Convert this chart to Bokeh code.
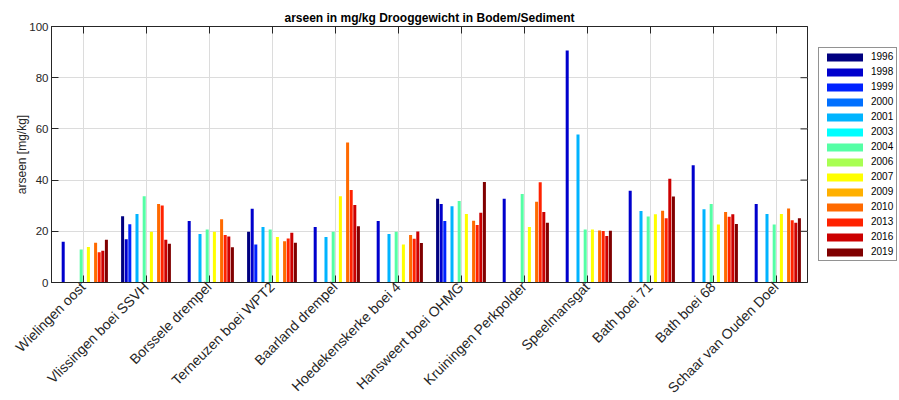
import math
import numpy as np
from bokeh.plotting import figure
from bokeh.models import (ColumnDataSource, FactorRange, Range1d, CategoricalAxis,
                          Legend, LegendItem, FixedTicker)
from bokeh.transform import dodge
from bokeh.embed import file_html
from bokeh.resources import INLINE

nan = float("nan")

stations = ["Wielingen oost", "Vlissingen boei SSVH", "Borssele drempel",
            "Terneuzen boei WPT2", "Baarland drempel", "Hoedekenskerke boei 4",
            "Hansweert boei OHMG", "Kruiningen Perkpolder", "Speelmansgat",
            "Bath boei 71", "Bath boei 68", "Schaar van Ouden Doel"]

years = ["1996", "1998", "1999", "2000", "2001", "2003", "2004",
         "2006", "2007", "2009", "2010", "2013", "2016", "2019"]

a1996 = [nan, 25.9, nan, 19.8, nan, nan, 32.7, nan, nan, nan, nan, nan]
a1998 = [15.9, 16.9, 24.0, 28.8, 21.7, 24.0, 30.7, 32.7, 90.6, 35.8, 45.8, 30.7]
a1999 = [nan, 22.8, nan, 14.8, nan, nan, 24.0, nan, nan, nan, nan, nan]
a2000 = [nan] * 12
a2001 = [nan, 26.8, 18.9, 21.7, 17.8, 18.9, 29.8, nan, 57.8, 27.9, 28.6, 26.8]
a2003 = [nan] * 12
a2004 = [12.9, 33.7, 20.7, 20.7, 19.8, 19.8, 31.8, 34.6, 20.7, 25.8, 30.7, 22.7]
a2006 = [nan] * 12
a2007 = [13.9, 19.8, 19.8, 17.8, 33.7, 14.8, 26.8, 21.7, 20.7, 26.7, 22.7, 26.8]
a2009 = [nan] * 12
a2010 = [15.5, 30.7, 24.7, 16.1, 54.7, 18.6, 24.1, 31.5, 20.3, 28.0, 27.5, 28.9]
a2013 = [11.8, 30.1, 18.6, 17.2, 36.1, 17.1, 22.5, 39.2, 20.1, 25.1, 25.7, 24.3]
a2016 = [12.4, 16.7, 18.0, 19.4, 30.3, 19.9, 27.2, 27.5, 18.2, 40.5, 26.7, 23.3]
a2019 = [16.7, 15.1, 13.8, 15.5, 22.0, 15.4, 39.3, 23.3, 20.2, 33.6, 22.9, 25.1]

series = [a1996, a1998, a1999, a2000, a2001, a2003, a2004,
          a2006, a2007, a2009, a2010, a2013, a2016, a2019]

colors = ["#000080", "#0000CD", "#0022FF", "#0070FF", "#00B4FF", "#00FFFF", "#55FFA5",
          "#A8FF52", "#FFFF00", "#FFB000", "#FF6A00", "#FF2200", "#CC0000", "#800000"]

yticks = [0, 20, 40, 60, 80, 100]

TXT = "#262626"
FONT = "Liberation Sans"

p = figure(frame_width=756, frame_height=256,
           x_range=FactorRange(*stations, range_padding=0, factor_padding=0),
           y_range=Range1d(0, 100),
           output_backend="svg", toolbar_location=None,
           min_border_left=51, min_border_right=0,
           min_border_top=26, min_border_bottom=110)
p.outline_line_color = TXT
p.background_fill_color = "white"
p.border_fill_color = "white"

n = len(years)
slot = 0.8 / n
items = []
for i, (yr, vals, col) in enumerate(zip(years, series, colors)):
    src = ColumnDataSource(dict(station=stations, value=np.array(vals, dtype=float)))
    off = (i - (n - 1) / 2) * slot
    r = p.vbar(x=dodge("station", off, range=p.x_range), top="value", bottom=0,
               width=0.048, source=src, fill_color=col, line_color=None)
    items.append(LegendItem(label=yr, renderers=[r]))

# inward tick marks on the right-hand box edge (mirror of the y axis ticks)
x_end = len(stations)
tick_len = 7.0 / 63.0
p.segment(x0=[x_end] * len(yticks), x1=[x_end - tick_len] * len(yticks),
          y0=yticks, y1=yticks, line_color=TXT, line_width=1)

# title
p.title.text = "arseen in mg/kg Drooggewicht in Bodem/Sediment"
p.title.align = "center"
p.title.text_font = FONT
p.title.text_font_size = "12px"
p.title.text_font_style = "bold"
p.title.text_color = "black"
p.title.standoff = 3

# axes
p.yaxis.ticker = FixedTicker(ticks=yticks)
p.yaxis.axis_label = "arseen [mg/kg]"
for ax in (p.xaxis[0], p.yaxis[0]):
    ax.axis_line_color = TXT
    ax.major_tick_line_color = TXT
    ax.major_tick_in = 7
    ax.major_tick_out = 0
    ax.minor_tick_line_color = None
    ax.major_label_text_font = FONT
    ax.major_label_text_color = TXT
    ax.axis_label_text_font = FONT
    ax.axis_label_text_color = TXT
    ax.axis_label_text_font_style = "normal"

p.yaxis.major_label_text_font_size = "11.5px"
p.yaxis.axis_label_text_font_size = "12px"
p.yaxis.major_label_standoff = 3
p.yaxis.axis_label_standoff = -3
p.xaxis.major_label_text_font_size = "14px"
p.xaxis.major_label_orientation = math.pi / 4
p.xaxis.major_label_standoff = 2

top_ax = CategoricalAxis(axis_line_color=TXT, major_tick_line_color=TXT,
                         major_tick_in=7, major_tick_out=0,
                         major_label_text_color=None, major_label_text_font_size="1px",
                         major_label_standoff=0)
p.add_layout(top_ax, "above")

p.xgrid.grid_line_color = "#dcdcdc"
p.ygrid.grid_line_color = "#dcdcdc"

legend = Legend(items=items, location=(11, 21), orientation="vertical",
                glyph_width=45, glyph_height=10, label_height=10,
                label_text_font=FONT, label_text_font_size="10px",
                label_text_color="black", label_standoff=4,
                spacing=4, padding=3, margin=0,
                border_line_color=TXT, border_line_width=1,
                background_fill_color="white", background_fill_alpha=1)
p.add_layout(legend, "right")

open("out.html", "w").write(file_html(p, INLINE))
